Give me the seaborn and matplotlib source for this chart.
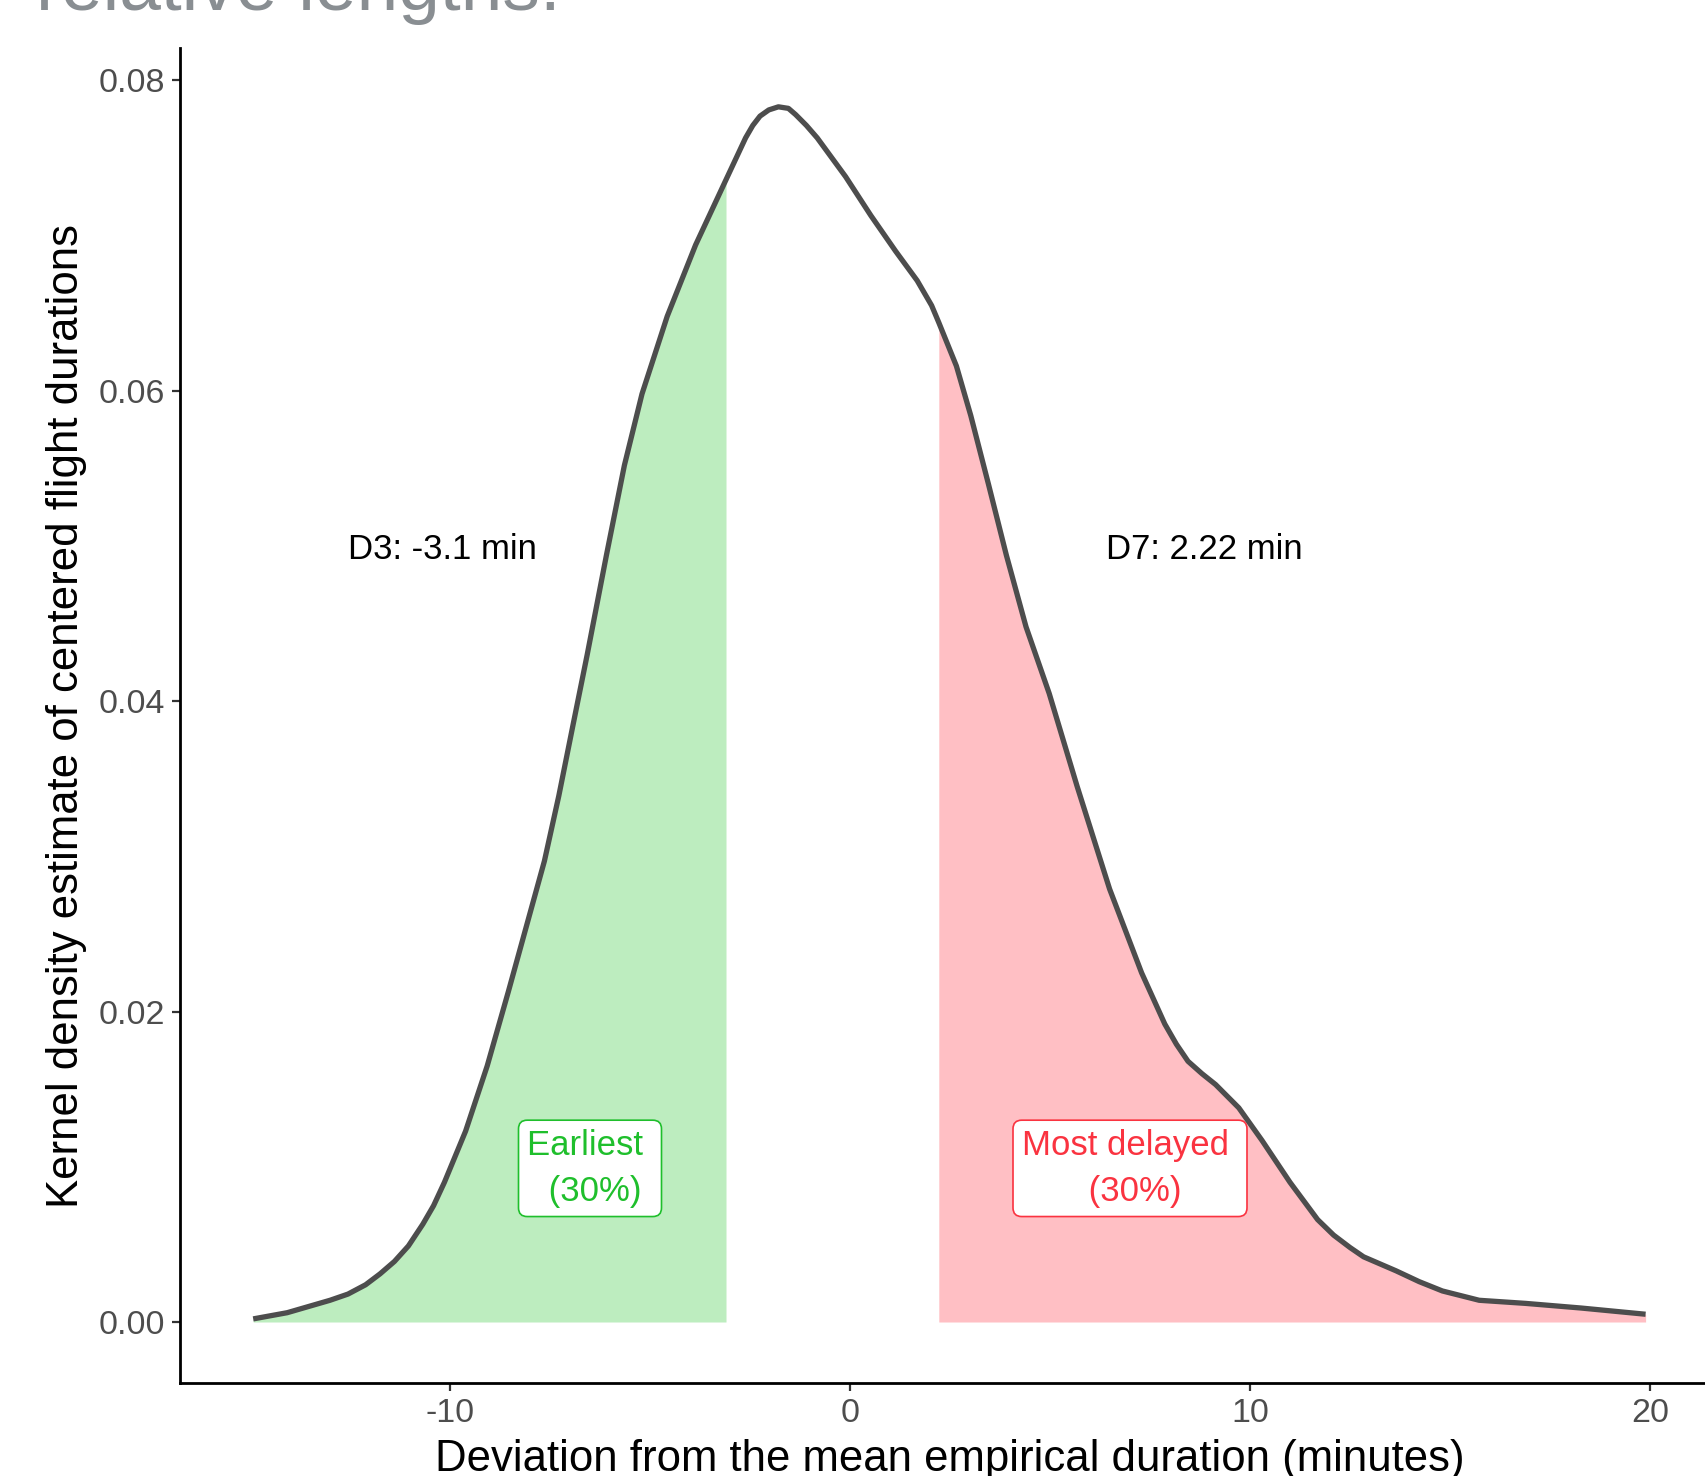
import numpy as np
import pandas as pd
import matplotlib
matplotlib.use("Agg")
import matplotlib.pyplot as plt
import seaborn as sns

# ---- data ----
dev_minutes = [-14.92, -14.07, -13.00, -12.55, -12.11, -11.75, -11.39, -11.04, -10.68, -10.41,
               -10.14, -9.61, -9.07, -8.54, -8.09, -7.64, -7.28, -6.93, -6.57, -6.30,
               -6.09, -5.64, -5.20, -4.57, -3.86, -3.10, -2.61, -2.43, -2.25, -2.03,
               -1.79, -1.54, -1.36, -1.09, -0.82, -0.11, 0.52, 1.14, 1.68, 2.04,
               2.22, 2.66, 3.02, 3.46, 3.91, 4.40, 4.98, 5.68, 6.49, 6.89,
               7.29, 7.87, 8.16, 8.45, 8.80, 9.14, 9.72, 10.30, 11.00, 11.69,
               12.09, 12.50, 12.84, 13.65, 14.23, 14.81, 15.73, 16.31, 16.89, 18.28,
               19.89]
density = [0.0002, 0.0006, 0.0014, 0.0018, 0.0024, 0.0031, 0.0039, 0.0049, 0.0063, 0.0075,
           0.0090, 0.0123, 0.0165, 0.0213, 0.0255, 0.0297, 0.0339, 0.0384, 0.0430, 0.0466,
           0.0494, 0.0552, 0.0598, 0.0648, 0.0694, 0.0736, 0.0763, 0.0771, 0.0777, 0.0781,
           0.0783, 0.0782, 0.0778, 0.0771, 0.0763, 0.0738, 0.0713, 0.0690, 0.0671, 0.0655,
           0.0644, 0.0616, 0.0584, 0.0540, 0.0494, 0.0448, 0.0405, 0.0345, 0.0279, 0.0252,
           0.0225, 0.0192, 0.0179, 0.0168, 0.0160, 0.0153, 0.0138, 0.0117, 0.0090, 0.0066,
           0.0056, 0.0048, 0.0042, 0.0033, 0.0026, 0.0020, 0.0014, 0.0013, 0.0012, 0.0009,
           0.0005]
D3 = -3.1
D7 = 2.22
x_ticks = [-10, 0, 10, 20]
y_ticks = [0.00, 0.02, 0.04, 0.06, 0.08]
y_tick_labels = ["0.00", "0.02", "0.04", "0.06", "0.08"]

df = pd.DataFrame({"dev": dev_minutes, "dens": density})

sns.set_style("ticks")
plt.rcParams["font.family"] = ["Liberation Sans", "DejaVu Sans"]

W, H = 1705, 1476
fig = plt.figure(figsize=(W / 100, H / 100), dpi=100)
fig.patch.set_facecolor("white")
ax = fig.add_axes([180 / W, 1 - 1383 / H, 1540 / W, 1335 / H])
ax.set_facecolor("white")

left = df[df["dev"] <= D3]
right = df[df["dev"] >= D7]
ax.fill_between(left["dev"], 0, left["dens"], color="#BDEDBF", lw=0, zorder=1)
ax.fill_between(right["dev"], 0, right["dens"], color="#FFBFC4", lw=0, zorder=1)
sns.lineplot(data=df, x="dev", y="dens", ax=ax, color="#4D4D4D", lw=3.8, zorder=3,
             solid_capstyle="butt", solid_joinstyle="round")

ax.set_xlim(-16.75, 21.75)
ax.set_ylim(-0.00393, 0.08209)
ax.set_xticks(x_ticks)
ax.set_xticklabels([str(v) for v in x_ticks])
ax.set_yticks(y_ticks)
ax.set_yticklabels(y_tick_labels)

for s in ["top", "right"]:
    ax.spines[s].set_visible(False)
for s in ["left", "bottom"]:
    ax.spines[s].set_linewidth(2)
    ax.spines[s].set_color("black")
ax.tick_params(axis="both", length=5.5, width=1.6, color="#333333",
               labelsize=24.5, labelcolor="#4D4D4D", pad=5)

ax.set_xlabel("Deviation from the mean empirical duration (minutes)", fontsize=31.5, color="black")
ax.xaxis.label.set_va("baseline")
ax.xaxis.set_label_coords(0.5, -(1471 - 1383) / 1335)
ax.set_ylabel("Kernel density estimate of centered flight durations", fontsize=31.5, color="black")
ax.yaxis.label.set_va("baseline")
ax.yaxis.set_label_coords((78 - 180) / 1540, 0.5)

# annotations
ax.text(-10.19, 0.0498, "D3: -3.1 min", fontsize=25, color="black", ha="center", va="center", zorder=5)
ax.text(8.87, 0.0498, "D7: 2.22 min", fontsize=25, color="black", ha="center", va="center", zorder=5)

green = "#1FBF2C"
red = "#FA3340"
ax.text(-6.5, 0.0099, "Earliest \n (30%)", fontsize=25, color=green, ha="center", va="center",
        multialignment="center", linespacing=1.5, zorder=6,
        bbox=dict(boxstyle="round,pad=0.25,rounding_size=0.25", fc="white", ec=green, lw=1.2))
ax.text(7.0, 0.0099, "Most delayed \n (30%)", fontsize=25, color=red, ha="center", va="center",
        multialignment="center", linespacing=1.5, zorder=6,
        bbox=dict(boxstyle="round,pad=0.25,rounding_size=0.25", fc="white", ec=red, lw=1.2))

# clipped title at top
fig.text(36 / W, 1 - 10 / H, "relative lengths.", fontsize=54, color="#898E92",
         ha="left", va="baseline")

fig.savefig("out.png", dpi=100, facecolor="white")
